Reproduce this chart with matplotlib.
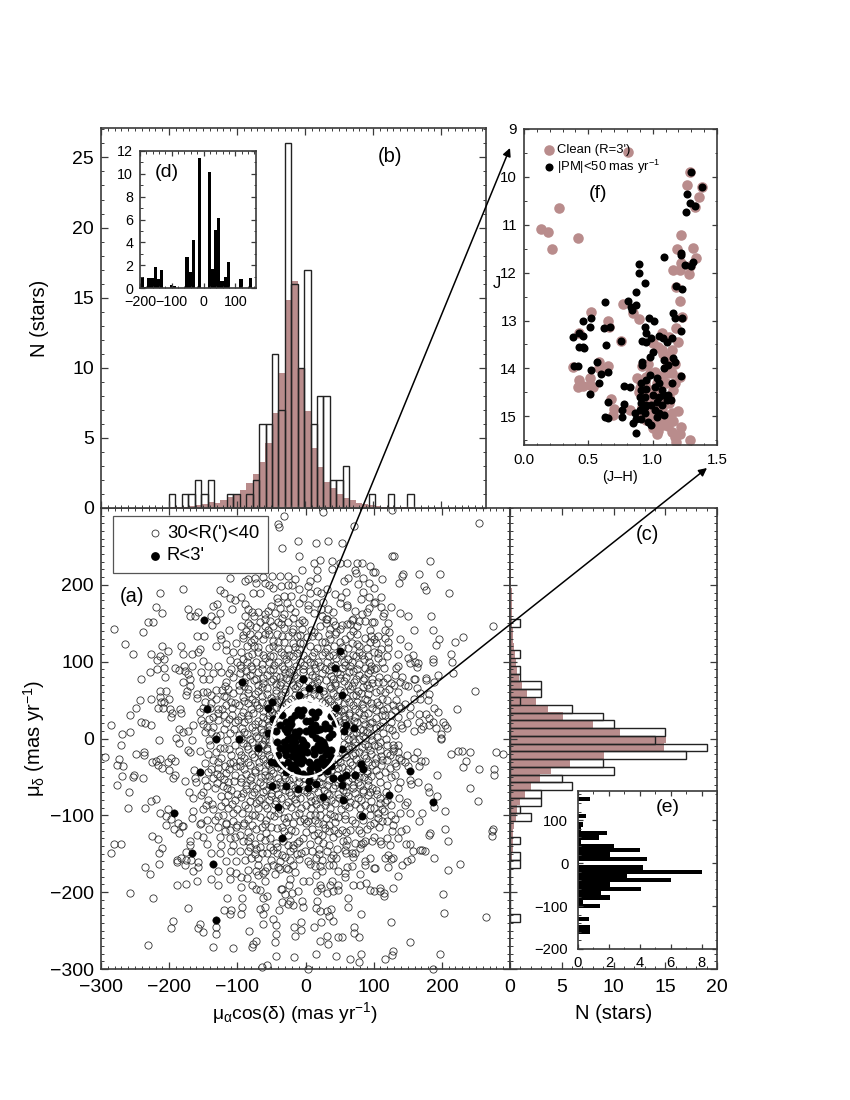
import matplotlib
matplotlib.use("Agg")
import matplotlib.pyplot as plt
from matplotlib.patches import Ellipse, Rectangle, FancyArrowPatch
from matplotlib.ticker import MultipleLocator

plt.rcParams['font.family'] = ['Liberation Sans', 'DejaVu Sans']
plt.rcParams['mathtext.fontset'] = 'custom'
plt.rcParams['mathtext.rm'] = 'Liberation Sans'
plt.rcParams['mathtext.it'] = 'Liberation Sans'
plt.rcParams['mathtext.bf'] = 'Liberation Sans'

BROWN = '#B98C8C'
SPINE = '#3a3a3a'

# ---- panel (a): proper motions of the comparison field
open_left_top = [(-111,209),(-179,195),(-213,189),(-125,193),(-119,189),(-111,183),(-104,180),(-219,171),(-211,163),(-173,169),(-169,160),(-157,164),(-162,159),(-130,175),(-136,172),(-108,169),(-126,163),(-138,159),(-131,154),(-137,148),(-231,152),(-223,151),(-281,143),(-239,139),(-159,133),(-149,134),(-112,141),(-126,135),(-124,130),(-265,123),(-253,110),(-211,120),(-182,120),(-201,114),(-227,110),(-213,108),(-218,102),(-207,103),(-155,117),(-167,110),(-179,110),(-158,112),(-131,120),(-117,123),(-117,115),(-107,112),(-102,124),(-151,101),(-143,94),(-128,95),(-111,102),(-178,95),(-167,94),(-191,92),(-207,92),(-218,90),(-228,86),(-206,80),(-241,77),(-186,89),(-177,88),(-172,84),(-169,78),(-179,74),(-153,86),(-142,78),(-151,78),(-124,87),(-109,91),(-106,80),(-116,74),(-170,68),(-174,62),(-176,57),(-214,62),(-204,62),(-214,54),(-200,52),(-226,51),(-243,50),(-212,48),(-207,48),(-216,40),(-209,40),(-249,40),(-257,30),(-199,38),(-196,33),(-197,28),(-184,38),(-182,33),(-159,58),(-145,60),(-159,53),(-138,57),(-131,63),(-123,63),(-114,65),(-131,52),(-116,54),(-106,59),(-148,48),(-138,46),(-128,39),(-116,44),(-104,46),(-155,34),(-128,33),(-119,31),(-108,31),(-153,24),(-141,26),(-128,24),(-116,20),(-104,22),(-241,22),(-235,20),(-227,18),(-285,18),(-257,8),(-269,6),(-186,12),(-179,8),(-172,10),(-165,18),(-150,19),(-190,1),(-148,9),(-138,9),(-126,5),(-111,7)]
open_left_bottom = [(-215,-2),(-270,-8),(-185,-6),(-167,-2),(-172,-15),(-169,-18),(-155,-16),(-294,-24),(-249,-20),(-237,-17),(-237,-22),(-273,-27),(-277,-35),(-267,-36),(-225,-31),(-219,-29),(-213,-27),(-217,-34),(-211,-39),(-201,-31),(-197,-26),(-191,-29),(-200,-41),(-269,-49),(-253,-50),(-251,-48),(-239,-51),(-195,-51),(-192,-48),(-177,-55),(-163,-41),(-162,-51),(-161,-56),(-277,-61),(-259,-69),(-219,-79),(-227,-81),(-261,-91),(-235,-91),(-171,-70),(-165,-77),(-153,-73),(-143,-80),(-137,-85),(-146,-86),(-151,-92),(-165,-94),(-167,-103),(-213,-97),(-205,-101),(-201,-92),(-197,-105),(-205,-113),(-193,-118),(-187,-110),(-185,-123),(-181,-114),(-179,-114),(-153,-110),(-155,-111),(-142,-118),(-144,-106),(-128,-101),(-117,-110),(-159,-125),(-151,-128),(-145,-137),(-169,-134),(-169,-139),(-225,-127),(-217,-131),(-211,-143),(-215,-149),(-281,-137),(-271,-137),(-285,-149),(-176,-148),(-182,-155),(-188,-158),(-189,-161),(-175,-158),(-168,-158),(-177,-164),(-158,-161),(-157,-167),(-165,-173),(-215,-163),(-235,-167),(-228,-176),(-189,-191),(-175,-189),(-159,-185),(-139,-183),(-129,-191),(-111,-183),(-257,-201),(-223,-207),(-115,-207),(-173,-220),(-119,-223),(-109,-223),(-111,-229),(-195,-237),(-155,-241),(-157,-247),(-198,-247),(-150,-252),(-131,-245),(-131,-255),(-231,-269),(-135,-272),(-107,-273),
(-143,-20),(-131,-17),(-119,-13),(-109,-21),(-148,-32),(-136,-28),(-124,-26),(-111,-32),(-102,-36),(-143,-43),(-128,-39),(-116,-45),(-104,-47),(-148,-54),(-136,-52),(-126,-49),(-114,-56),(-133,-65),(-121,-62),(-109,-67),(-151,-69),(-124,-75),(-114,-73),(-104,-80),(-124,-88),(-114,-91),(-106,-97),(-121,-99),(-116,-111),(-106,-108),(-128,-115),(-111,-119),(-102,-115),(-133,-106),(-125,-128),(-111,-130),(-124,-139),(-106,-139),(-138,-149),(-125,-149),(-109,-147),(-116,-160),(-102,-159),(-111,-173),(-128,-173),(-102,-175)]
open_top = [(25,295),(-31,289),(-41,279),(-39,275),(71,276),(-35,248),(-11,257),(15,255),(33,257),(53,254),(-9,237),(21,232),(13,228),(39,231),(51,228),(61,228),(75,229),(83,228),(94,224),(-5,219),(17,219),(39,221),(72,219),(74,215),(99,217),(-84,207),(-74,209),(-62,210),(-49,212),(-37,212),(-25,212),(-15,208),(17,209),(7,205),(63,209),(57,205),(85,209),(77,201),(93,202),(-89,205),(-73,202),(-60,202),(-53,200),(-47,196),(-36,199),(-25,200),(-20,200),(-9,195),(4,198),(17,192),(31,194),(23,189),(-77,189),(-67,189),(-42,183),(-32,186),(-21,186),(-3,183),(7,189),(44,188),(59,191),(85,191),(100,196),(52,184),(81,181),(93,184),(-94,184),(-89,175),(-84,168),(-40,178),(-27,177),(-10,176),(4,174),(15,176),(26,178),(50,176),(61,174),(61,171),(-50,172),(-37,170),(-23,170),(4,168),(23,168),(33,168),(93,170),(100,176),(-69,165),(-59,162),(-45,163),(-32,162),(-18,157),(-89,160),(-75,159),(24,160),(32,156),(83,162),(90,165),(41,153),(68,154),(78,153),(87,153),(-67,152),(-52,153),(-40,152),(-25,152),(-10,150),(22,146),(44,148),(54,148),(61,149),(76,146),(-81,148),(-59,147),(-47,146),(-32,144),(-18,143),(-5,142),(-94,147),(-72,145),(12,139),(36,142),(51,142),(-81,136),(-69,135),(-54,136),(-42,136),(-25,134),(-13,133),(2,132),(19,133),(34,136),(76,136),(88,131),(100,129),(-91,131),(-76,129),(-62,129),(-47,127),(-32,126),(-18,124),(-3,124),(24,126),(36,129),(58,129),(76,123),(-86,120),(-69,119),(-54,118),(-40,118),(-25,116),(-10,116),(17,118),(32,118),(63,118),(90,118),(-94,113),(-79,110),(-62,109),(-47,108),(-32,109),(-18,107),(-3,109),(24,109),(41,109),(70,109),(83,109),(100,113),(-86,100),(-72,100),(-54,99),(-40,100),(-25,98),(-8,100),(7,99),(19,100),(32,99),(56,100),(68,99),(93,100),(-94,92),(-79,91),(-64,91),(-47,91),(-32,91),(-18,89),(-3,91),(14,92),(29,91),(53,92),(75,91),(88,92),(100,91)]
open_bottom = [(-93,-97),(-79,-99),(-67,-102),(-52,-100),(-40,-97),(-25,-102),(-10,-97),(7,-100),(22,-100),(36,-98),(48,-102),(68,-106),(95,-100),(-91,-113),(-79,-113),(-64,-115),(-50,-115),(-35,-115),(-18,-110),(-8,-108),(4,-108),(19,-110),(34,-113),(53,-119),(65,-119),(78,-119),(95,-113),(-96,-126),(-81,-128),(-67,-128),(-52,-130),(-25,-126),(-15,-120),(-3,-130),(12,-126),(24,-126),(41,-128),(48,-123),(61,-132),(73,-136),(85,-136),(98,-134),(-91,-134),(-81,-141),(-67,-141),(-52,-141),(-42,-141),(-25,-139),(-13,-136),(34,-139),(46,-144),(-96,-147),(-84,-147),(-64,-149),(-57,-149),(-42,-149),(-23,-147),(-13,-150),(-1,-147),(10,-146),(32,-146),(68,-149),(73,-149),(-89,-158),(-69,-156),(-50,-158),(-37,-160),(-23,-158),(-9,-157),(4,-159),(24,-158),(37,-155),(94,-155),(88,-160),(-69,-165),(-57,-167),(-41,-167),(-28,-168),(7,-163),(22,-166),(34,-165),(61,-167),(68,-166),(88,-165),(-84,-171),(-72,-173),(-59,-172),(-45,-176),(-37,-170),(-25,-170),(-15,-174),(24,-173),(48,-172),(58,-175),(80,-176),(100,-169),(-94,-180),(-86,-181),(-69,-178),(-62,-175),(-23,-183),(-3,-185),(5,-185),(15,-178),(39,-185),(58,-180),(89,-188),(-60,-185),(-79,-191),(-95,-193),(-24,-191),(22,-191),(36,-191),(48,-191),(69,-191),(80,-191),(100,-198),(95,-197),(-36,-196),(-34,-196),(-67,-197),(-72,-196),(-20,-201),(-11,-198),(17,-198),(23,-194),(40,-198),(48,-197),(31,-201),(-62,-207),(-57,-205),(-93,-207),(-30,-203),(63,-207),(-35,-213),(-23,-212),(-5,-211),(17,-211),(-19,-217),(-26,-215),(-93,-219),(-59,-219),(-3,-219),(63,-219),(-67,-222),(-39,-223),(-63,-229),(-95,-229),(15,-221),(22,-225),(31,-225),(37,-222),(35,-231),(41,-237),(81,-229),(-47,-235),(-43,-243),(-63,-241),(-7,-239),(-17,-245),(-7,-249),(13,-245),(23,-239),(71,-245),(-43,-254),(-83,-251),(-15,-257),(71,-253),(79,-259),(31,-257),(47,-259),(53,-258),(21,-263),(33,-267),(-73,-264),(-77,-268),(-79,-271),(-45,-265),(-43,-283),(-17,-285),(15,-281),(45,-283),(65,-287),(81,-280),(79,-291),(-57,-295),(-64,-297),(4,-300)]
open_right_top = [(127,297),(255,281),(127,238),(130,237),(183,231),(102,217),(112,208),(143,214),(141,211),(137,203),(167,214),(198,214),(174,199),(177,193),(211,190),(111,184),(102,178),(111,171),(125,171),(115,163),(114,159),(139,163),(151,160),(184,159),(121,150),(101,152),(159,141),(187,141),(275,146),(116,141),(122,139),(106,133),(116,131),(139,129),(151,120),(121,125),(231,132),(220,126),(196,129),(191,122),(104,124),(121,118),(111,116),(106,111),(119,108),(136,110),(157,109),(213,110),(187,104),(187,100),(215,100),(151,105),(161,100),(153,98),(165,98),(163,93),(106,105),(104,92),(136,94),(133,92),(131,82),(141,80),(119,79),(217,85),(195,82),(177,79),(159,78),(161,77),(189,74),(177,76),(125,72),(138,74),(146,70),(150,68),(106,74),(114,74),(249,62),(163,66),(136,60),(109,63),(116,60),(181,58),(168,59),(159,52),(168,52),(179,50),(133,50),(119,50),(105,48),(146,45),(222,38),(189,40),(195,34),(137,42),(154,41),(114,37),(131,37),(104,37),(153,30),(167,32),(177,32),(181,27),(116,31),(126,30),(104,27),(167,22),(187,22),(201,22),(205,18),(207,14),(149,20),(140,18),(126,21),(114,22),(181,18),(172,16),(169,12),(159,10),(191,14),(141,14),(127,11),(114,7),(104,14),(199,6),(199,1),(131,5)]
open_right_bottom = [(199,0),(109,-5),(120,-8),(128,-8),(136,-8),(129,-16),(109,-15),(136,-17),(163,-17),(149,-22),(159,-25),(119,-19),(137,-25),(111,-23),(119,-28),(104,-26),(213,-20),(223,-16),(229,-16),(241,-18),(279,-18),(289,-20),(235,-29),(231,-37),(170,-29),(176,-29),(146,-31),(131,-32),(133,-36),(167,-36),(151,-36),(111,-34),(255,-40),(276,-40),(276,-48),(193,-47),(116,-43),(104,-41),(132,-48),(153,-54),(138,-57),(109,-57),(155,-59),(165,-57),(135,-65),(179,-63),(181,-69),(241,-65),(104,-67),(193,-75),(253,-81),(137,-77),(109,-77),(189,-89),(116,-83),(149,-82),(146,-86),(110,-84),(126,-86),(205,-95),(171,-97),(153,-97),(138,-97),(115,-95),(106,-97),(131,-105),(167,-107),(119,-107),(106,-103),(112,-107),(128,-112),(147,-118),(127,-121),(205,-118),(275,-118),(273,-121),(273,-127),(183,-123),(181,-125),(209,-133),(119,-129),(109,-133),(111,-137),(124,-139),(147,-137),(153,-137),(157,-147),(168,-145),(171,-145),(176,-147),(121,-152),(129,-155),(116,-155),(126,-157),(155,-157),(149,-159),(189,-155),(226,-163),(141,-165),(121,-167),(102,-169),(209,-171),(135,-179),(109,-195),(129,-195),(109,-199),(115,-201),(115,-205),(201,-203),(203,-227),(265,-232),(125,-239),(153,-265),(129,-277),(127,-282),(198,-280),(117,-287),(187,-300)]
open_core = [(-96,85),(-82,82),(-70,86),(-56,83),(-43,81),(-30,85),(-17,83),(-3,86),(10,82),(24,85),(37,81),(50,84),(64,86),(78,82),(91,85),
(-90,74),(-76,76),(-63,72),(-50,75),(-36,73),(-24,76),(-10,72),(4,75),(17,73),(30,76),(44,72),(57,75),(71,73),(85,76),(97,72),
(-98,63),(-84,65),(-70,62),(-57,66),(-44,63),(-30,64),(-16,66),(-2,62),(11,65),(25,62),(38,66),(51,63),(66,65),(77,62),(93,66),
(-92,54),(-78,52),(-64,55),(-50,53),(-36,56),(-22,52),(-8,55),(6,53),(20,56),(33,52),(46,55),(60,53),(74,56),(88,52),
(-97,44),(-85,46),(-71,43),(-57,45),(-42,47),(-29,45),(29,46),(42,44),(56,46),(70,43),(83,45),(96,46),
(-91,35),(-77,33),(-63,36),(-49,34),(-41,32),(42,33),(52,36),(64,33),(78,35),(92,33),
(-99,24),(-84,26),(-70,23),(-56,25),(-48,22),(49,23),(58,26),(71,23),(85,25),(98,22),
(-93,14),(-79,15),(-65,12),(-53,15),(55,13),(66,16),(80,13),(93,15),
(-98,4),(-86,6),(-72,3),(-58,5),(56,3),(69,6),(84,3),(96,5),
(-92,-6),(-78,-4),(-64,-7),(-54,-5),(57,-7),(72,-4),(88,-7),
(-97,-16),(-84,-14),(-70,-17),(-57,-15),(53,-17),(64,-14),(79,-17),(94,-15),
(-90,-26),(-75,-24),(-62,-27),(-50,-25),(48,-27),(60,-24),(74,-27),(89,-25),
(-96,-36),(-82,-34),(-68,-37),(-54,-35),(-42,-37),(42,-35),(54,-37),(68,-34),(84,-37),(97,-35),
(-88,-46),(-74,-44),(-60,-47),(-47,-45),(-31,-47),(32,-45),(46,-47),(59,-44),(73,-47),(90,-45),
(-94,-56),(-81,-54),(-67,-57),(-52,-55),(-38,-57),(-24,-54),(-10,-57),(6,-55),(20,-57),(34,-54),(48,-57),(62,-55),(77,-57),(92,-54),
(-87,-66),(-72,-64),(-58,-67),(-44,-65),(-30,-67),(-16,-64),(-2,-67),(13,-65),(27,-67),(41,-64),(55,-67),(70,-65),(85,-67),(98,-64),
(-95,-76),(-79,-74),(-65,-77),(-50,-75),(-36,-77),(-22,-74),(-8,-77),(7,-75),(21,-77),(35,-74),(49,-77),(63,-75),(77,-77),(92,-74),
(-89,-86),(-73,-84),(-59,-87),(-45,-85),(-29,-87),(-14,-84),(0,-87),(15,-85),(29,-87),(44,-84),(58,-87),(72,-85),(87,-87)]
open_core_more = [(-88,80),(-62,79),(-38,80),(-12,79),(14,80),(40,78),(60,80),(86,79),(-97,70),(-70,69),(-44,71),(-18,69),(9,70),(36,68),(62,70),(90,69),(-84,59),(-57,58),(-30,60),(-2,59),(27,58),(56,60),(82,59),(-90,49),(-64,48),(-36,50),(36,49),(64,48),(90,50),(-80,39),(-52,38),(-36,40),(47,39),(72,38),(98,40),(-94,29),(-62,28),(-46,30),(48,29),(73,28),(-74,19),(-54,18),(56,20),(88,19),(-90,9),(-62,8),(62,10),(90,9),(-82,-1),(-60,-2),(62,0),(78,-1),(98,-2),(-70,-11),(-56,-12),(62,-10),(83,-11),(-94,-21),(-66,-22),(58,-20),(69,-21),(86,-22),(-84,-31),(-56,-32),(-44,-30),(50,-31),(80,-32),(-74,-41),(-60,-42),(-36,-40),(38,-41),(62,-40),(90,-42),(-94,-51),(-66,-50),(-40,-52),(-18,-51),(-2,-52),(24,-50),(40,-52),(68,-51),(86,-50),(-78,-61),(-52,-60),(-36,-62),(-4,-61),(32,-60),(58,-62),(80,-61),(-92,-71),(-62,-70),(-40,-72),(-12,-71),(18,-70),(48,-72),(72,-71),(94,-70),(-82,-81),(-54,-80),(-26,-82),(8,-81),(38,-80),(66,-82),(96,-81),(-70,-91),(-38,-92),(-6,-90),(22,-91),(52,-92),(80,-90)]
open_upper_more = [(-60,155),(-35,157),(-5,154),(30,156),(70,155),(-88,140),(-55,141),(-20,139),(8,141),(45,139),(70,140),(95,141),(-80,125),(-40,126),(-8,124),(28,125),(50,126),(68,124),(95,125),(-70,112),(-36,113),(-12,111),(12,112),(28,113),(55,111),(78,112),(-92,104),(-60,105),(-28,103),(2,104),(45,105),(62,103),(86,104),(-80,95),(-46,96),(-14,94),(22,95),(44,96),(66,94),(96,95)]
open_lower_more = [(-85,-105),(-58,-106),(-32,-104),(-2,-105),(14,-106),(30,-104),(58,-105),(85,-106),(-72,-118),(-42,-117),(-22,-119),(10,-118),(28,-117),(42,-119),(90,-118),(-85,-133),(-60,-132),(-33,-134),(-9,-133),(18,-132),(55,-134),(88,-133),(-72,-144),(-47,-145),(-18,-143),(20,-144),(58,-145),(80,-143),(-80,-155),(-30,-154),(15,-156),(45,-155),(70,-154)]
open_side_more = [(-120,55),(-110,48),(-140,40),(-122,38),(-108,40),(-135,28),(-112,25),(-145,15),(-120,12),(-105,12),(-132,3),(-115,-2),(-104,-8),(-140,-8),(-125,-12),(-112,-14),(-128,-30),(-118,-36),(-107,-30),(-138,-40),(-120,-53),(-105,-55),(-130,-58),(-115,-65),(-100,-72),(-118,-82),(-108,-85),(-100,-92),
(108,80),(122,64),(103,60),(112,52),(128,44),(108,44),(120,40),(135,28),(110,16),(122,14),(105,2),(118,-1),(130,-12),(107,-10),(124,-22),(112,-28),(102,-32),(124,-38),(108,-48),(120,-60),(105,-72),(118,-70),(100,-90),(112,-92),(125,-100),(108,-115),(100,-128)]
open_dense_layer = [(-78,165),(-55,166),(-15,164),(12,163),(40,165),(72,166),(-84,150),(-36,149),(-2,151),(30,150),(66,149),(98,151),(-92,135),(-60,136),(-34,134),(-8,135),(10,134),(44,136),(66,135),(96,134),(-76,120),(-47,121),(-16,119),(6,120),(42,121),(54,119),(78,120),(-84,108),(-52,107),(-24,109),(10,108),(34,107),(52,109),(74,108),(92,107),(-96,96),(-64,97),(-34,95),(-2,96),(12,97),(38,95),(58,96),(78,97),
(-88,88),(-52,89),(-24,87),(6,88),(34,89),(46,87),(70,88),(94,89),(-72,78),(-48,77),(-28,79),(-4,78),(20,77),(50,79),(74,78),(98,77),(-90,68),(-64,67),(-38,69),(-12,68),(16,67),(44,69),(68,68),(84,67),(-74,58),(-44,59),(-16,57),(12,58),(40,59),(70,57),(92,58),(-74,48),(-48,49),(-26,47),(24,48),(48,49),(76,47),(-68,40),(-44,41),(56,39),(84,40),(-84,30),(-54,31),(56,29),(64,31),(86,30),(-64,20),(-90,21),(64,19),(76,21),(94,20),(-74,10),(-54,11),(74,9),(84,11),(-94,0),(-70,1),(-54,-1),(70,0),(88,1),(-86,-10),(-62,-9),(68,-11),(92,-10),(-78,-20),(-54,-21),(72,-19),(96,-20),(-68,-30),(-96,-29),(66,-31),(92,-30),(-90,-40),(-50,-41),(48,-39),(76,-40),
(-80,-50),(-54,-49),(-30,-51),(-10,-50),(12,-49),(54,-51),(78,-50),(96,-49),(-88,-60),(-62,-61),(-44,-59),(-22,-60),(8,-61),(24,-59),(44,-60),(70,-61),(92,-60),(-76,-70),(-50,-71),(-24,-69),(2,-70),(32,-71),(60,-69),(84,-70),(-68,-80),(-44,-81),(-16,-79),(14,-80),(30,-81),(56,-79),(82,-80),(-84,-90),(-56,-91),(-22,-89),(8,-90),(36,-91),(64,-89),(94,-90),(-74,-100),(-46,-101),(-16,-99),(14,-100),(42,-101),(58,-99),(80,-100),(-90,-110),(-60,-111),(-28,-109),(0,-110),(26,-111),(44,-109),(72,-110),(-84,-122),(-58,-123),(-32,-121),(0,-122),(18,-123),(34,-121),(60,-122),(82,-123),(-74,-137),(-44,-136),(-18,-138),(6,-137),(26,-136),(60,-138),(82,-137),(-74,-150),(-34,-151),(-6,-149),(20,-150),(40,-151),(60,-149),(-48,-165),(-18,-164),(14,-166),(40,-165),
(-150,40),(-135,15),(-142,-2),(-130,-46),(-145,-62),(-112,-40),(-135,-92),(-118,-120),(-100,-112),(-104,-128),(-150,60),(-118,68),(-135,85),(-112,85),(-100,100),(115,92),(130,70),(112,30),(140,40),(100,-8),(140,-28),(125,-50),(100,-110),(140,-120),(135,-130),(120,-80),(112,100)]
cluster_stars = [(-149,154),(-144,38),(-131,0),(-155,-44),(-193,-97),(-167,-149),(-135,-163),(-131,-236),(-35,-129),(153,-42),(122,-73),(187,-83),(50,114),(43,92),
(-93,74),(-3,78),(5,66),(20,64),(-9,56),(53,56),(-49,48),(-55,40),(45,40),(-48,26),(-38,17),(60,17),(71,14),(-55,7),(56,10),(-98,-1),(-69,-12),(54,-14),(-51,-30),(-44,-32),(81,-33),(85,-40),(-29,-44),(72,-48),(40,-51),(59,-48),(52,-52),(54,-60),(5,-55),(-49,-62),(-29,-62),(15,-59),(-11,-66),(3,-64),(25,-76),(55,-80),(-41,-89),(83,-101),
(-11,37),(-7,30),(10,35),(18,34),(-21,26),(-21,19),(0,23),(7,23),(29,19),(37,29),(-27,9),(0,10),(17,11),(22,12),(39,6),(-25,0),(-12,3),(-5,-2),(15,1),(22,-2),(-32,-4),(-20,-7),(-7,-11),(0,-9),(27,-9),(-37,-12),(-15,-13),(-5,-17),(37,-15),(-29,-22),(-20,-23),(-7,-23),(13,-20),(24,-25),(37,-24),(-20,-35),(-7,-32),(7,-40),(17,-38),(27,-35),(32,-30),(-22,-38),(-12,-30),(2,-17),(22,-15),(17,-30),(-15,-5),(-10,-12),(-12,-18),(-3,-5),(-20,2),(-10,10),
(-30,12),(-24,14),(-15,8),(10,6),(-28,-10),(-22,-14),(-16,-20),(-4,-12),(12,-14),(18,-8),(25,-4),(30,-14),(30,-20),(-30,-16),(-14,-26),(-4,-28),(5,-30),(10,-34),(22,-32),(-16,-38),(-26,-30),(-12,-42),(28,14),(14,28),(-16,31),(-4,37),(14,18),(-28,22),(8,14),(34,2),(35,14),(44,20),(-42,-4),(-44,10),(-40,-22),(-34,-34),(-34,30),(20,-44),(32,-42),(38,-36),(-4,-46),(6,-46)]

# ---- panel (b)
b_start, b_width = -200.0, 9.46
b_open = [1,0,1,1,2,1,2,0,0,1,1,0,1,2,6,6,11,7,26,16,10,17,6,8,8,2,2,3,0,0,0,1,0,0,1,0,0,1]
b_filled_start = -219.0
b_filled = [.03,.03,.04,.05,.07,.12,.2,.3,.4,.35,.55,.75,.9,1.25,1.8,2.45,3.3,4.65,6.8,9.6,14.8,16.2,10,6.9,4.3,2.9,1.85,1.4,1.0,.7,.6,.35,.25,.2,.15,.08,.05,.05,.05,.04,.03]

# ---- panel (c): bins counted downward
c_top, c_width = 155.0, 10.1
c_open = [1,0,0,0,1,0,1,1,3,3,1,6,9,10,15,14,19,17,9,10,5,6,3,3,1,2,0,0,1,0,1,1,0,0,0,0,0,0,1]
c_filled_top = 236.0
c_filled = [.03,.05,.08,.1,.15,.15,.18,.2,.22,.3,.3,.4,.45,.55,.65,.85,1.15,1.6,2.5,3.7,5.1,8,10.6,15.1,14.9,9.1,5.8,4,2.9,2,1.45,.95,.65,.6,.4,.33,.27,.25,.18,.13,.1,.08,.07,.05,.05,.04,.04,.03,.03,.03]

# ---- inset (d)
d_start, d_width = -197.0, 10.0
d_vals = [1,.1,.9,.9,1.8,.8,1.6,0,0,.3,.15,0,0,0,2.7,1.4,4.2,0,11.4,0,0,10.2,1.7,5.1,6.1,.6,1,2.3,0,0,0,.8,0,0,.9,0]

# ---- inset (e)
e_top, e_width = 155.0, 10.0
e_vals = [.75,0,0,0,.55,0,.35,.2,1.9,1.35,.2,2.35,4.0,2.1,4.45,.05,4.2,8.0,3.2,6.0,2.1,4.05,1.5,2.05,.35,1.45,0,0,.7,0,.75,.75]

# ---- panel (f): colour-magnitude diagram
clean_jh = [.81,1.29,1.27,1.38,1.36,1.33,.27,.13,.19,.42,.22,1.22,1.19,1.31,1.34,1.22,1.16,1.21,1.28,1.29,1.18,1.21,1.23,1.18,.77,.85,.89,.52,.65,.66,.43,.75,.38,.58,.65,.58,.64,.43,.51,.42,.46,.51,.54,.68,.70,.69,.82,.92,.91,.89,.95,.92,.95,.98,1.0,1.03,1.05,1.03,1.07,1.0,1.03,1.08,1.15,1.13,1.09,1.05,1.22,1.15,1.17,1.18,1.29,1.21,1.0,1.07,1.11,1.15,1.17,1.12,1.07,1.02,.96,1.13,1.07,1.21,1.15,
.9,.94,.98,1.02,1.06,1.1,.93,.97,1.01,1.05,1.09,1.13,1.17,.92,.96,1.0,1.04,1.08,1.12,1.16,.88,.94,.98,1.06,1.1,1.14,1.2,1.0,1.04,1.12,1.04,1.08,1.12,1.16,1.2]
clean_j = [9.47,9.89,10.16,10.21,10.42,10.63,10.65,11.08,11.16,11.27,11.5,11.21,11.51,11.49,11.69,11.8,11.95,11.95,12.02,11.87,12.29,12.6,12.93,13.16,12.65,12.85,12.97,12.82,13.01,13.13,13.27,13.42,13.97,13.86,13.94,14.0,14.03,14.24,14.21,14.38,14.36,14.35,14.38,14.63,14.84,14.98,14.87,13.96,14.28,14.49,14.17,14.8,15.08,14.94,14.52,14.31,14.45,14.73,14.87,15.15,15.36,15.19,14.94,14.73,14.59,15.08,15.22,15.33,15.43,15.54,15.5,15.36,13.48,13.62,13.76,13.62,13.9,14.1,14.17,14.07,13.9,13.34,13.27,14.17,14.1,
14.4,14.3,14.45,14.6,14.35,14.3,14.7,14.65,14.8,14.9,14.75,14.6,14.3,14.95,15.0,15.05,15.15,15.05,15.0,15.1,14.2,14.55,14.1,14.15,14.0,13.8,13.45,15.25,15.3,15.2,13.55,13.7,13.85,14.45,14.9]
pm_jh = [1.30,1.27,1.38,1.29,1.33,1.26,1.09,1.22,1.22,.89,.89,1.25,1.31,1.30,.94,1.18,1.23,.87,.63,.81,.87,.83,.84,1.16,1.17,1.23,.52,.46,.51,.62,.67,1.22,.97,1.01,.94,.95,.38,.43,.46,.75,.64,.43,.46,.47,.92,.95,.99,1.05,1.08,1.11,1.15,1.0,.98,.92,.92,.57,.39,.42,.52,1.09,1.16,1.17,1.12,1.09,.6,.65,1.22,.58,1.15,.78,.82,.51,.65,1.12,1.14,.78,.76,.76,.63,.65,.85,.87,
.91,.95,.98,1.03,1.05,.91,.95,1.02,1.07,.90,.94,1.0,1.05,1.09,.91,.95,.99,1.03,1.07,1.11,.90,.94,1.02,1.05,1.09,.87,.91,.96,.99,1.03,.86,.94]
pm_j = [9.9,10.35,10.21,10.54,10.6,10.74,11.67,11.58,11.63,11.82,12.01,11.85,11.77,11.87,12.21,12.27,12.34,12.41,12.62,12.6,12.67,12.71,12.79,12.85,12.95,12.94,12.94,13.02,13.13,13.16,13.14,13.21,12.95,13.02,13.13,13.27,13.35,13.27,13.32,13.42,13.52,13.55,13.56,13.58,13.42,13.44,13.37,13.32,13.37,13.44,13.37,13.65,13.76,13.86,13.93,13.86,13.95,13.95,14.03,13.83,13.79,13.86,13.93,14.0,14.12,14.07,14.15,14.31,14.31,14.37,14.38,14.54,14.7,14.56,14.65,14.75,14.86,15.01,15.01,15.03,15.15,15.34,
14.31,14.24,14.14,14.21,14.31,14.45,14.42,14.38,14.45,14.59,14.59,14.56,14.59,14.56,14.73,14.77,14.77,14.7,14.77,14.65,14.87,14.94,14.87,14.94,14.98,15.05,15.05,15.12,15.19,15.01,14.94,14.8]

fig = plt.figure(figsize=(8.5, 11), dpi=100, facecolor='white')

def box(l, t, r, b):
    return [l/850, 1-b/1100, (r-l)/850, (b-t)/1100]

def style(ax, fs, mx, my, major=4.8, minor=2.4):
    ax.xaxis.set_minor_locator(MultipleLocator(mx))
    ax.yaxis.set_minor_locator(MultipleLocator(my))
    ax.tick_params(which='both', direction='in', top=True, right=True, bottom=True, left=True,
                   color=SPINE, labelsize=fs, width=0.9)
    ax.tick_params(which='major', length=major)
    ax.tick_params(which='minor', length=minor, width=0.7)
    for s in ax.spines.values():
        s.set_color(SPINE)
        s.set_linewidth(1.2)

# -------- (a)
ax = fig.add_axes(box(101, 508, 510, 969))
every_open = (open_left_top + open_left_bottom + open_top + open_bottom + open_right_top +
              open_right_bottom + open_core + open_core_more + open_upper_more + open_lower_more +
              open_side_more + open_dense_layer)
ax.plot([p[0] for p in every_open], [p[1] for p in every_open], 'o', ms=5.2, mfc='none', mec='#333333', mew=0.6, ls='none', clip_on=False)
ax.plot([p[0] for p in cluster_stars], [p[1] for p in cluster_stars], 'o', ms=5.3, mfc='black', mec='black', mew=0.4, ls='none')
ax.add_patch(Ellipse((0, 0), 100, 100, fc='none', ec='white', lw=1.8, zorder=4))
ax.set_xlim(-300, 300)
ax.set_ylim(-300, 300)
ax.set_xticks([-300, -200, -100, 0, 100, 200], ['\u2212300', '\u2212200', '\u2212100', '0', '100', '200'])
ax.set_yticks([-300, -200, -100, 0, 100, 200], ['\u2212300', '\u2212200', '\u2212100', '0', '100', '200'])
style(ax, 14, 10, 10)
ax.tick_params(axis='x', which='major', pad=7)
ax.tick_params(axis='y', which='major', pad=5)
lx0 = (113-101)/409; lx1 = (268-101)/409; ly0 = 1-(573-508)/461; ly1 = 1-(516-508)/461
ax.add_patch(Rectangle((lx0, ly0), lx1-lx0, ly1-ly0, transform=ax.transAxes, fc='white', ec='#555555', lw=0.9, zorder=5))
ax.plot([(155-101)/409], [1-(533-508)/461], 'o', ms=5.0, mfc='white', mec='#333333', mew=0.6, transform=ax.transAxes, zorder=6)
ax.plot([(155-101)/409], [1-(556-508)/461], 'o', ms=5.3, mfc='black', mec='black', transform=ax.transAxes, zorder=6)
ax.text((167-101)/409, 1-(533-508)/461, "30<R(')<40", fontsize=13.3, va='center', ha='left', transform=ax.transAxes, zorder=6)
ax.text((167-101)/409, 1-(556-508)/461, "R<3'", fontsize=13.3, va='center', ha='left', transform=ax.transAxes, zorder=6)
ax.text((120-101)/409, 1-(597-508)/461, '(a)', fontsize=14.5, va='center', ha='left', transform=ax.transAxes)
ax.set_xlabel('\u03bc$_{\\mathrm{\u03b1}}$cos(\u03b4) (mas yr$^{-1}$)', fontsize=13.9, x=(295-101)/409, labelpad=3)
ax.set_ylabel('\u03bc$_{\\mathrm{\u03b4}}$ (mas yr$^{-1}$)', fontsize=14.5)
ax.yaxis.set_label_coords((47-101)/409, 0.5)

# -------- (b)
axb = fig.add_axes(box(101, 128, 486, 508))
axb.bar([b_filled_start + i*b_width for i in range(len(b_filled))], b_filled, width=b_width, align='edge', color=BROWN, lw=0)
axb.bar([b_start + i*b_width for i in range(len(b_open))], b_open, width=b_width, align='edge', fc='none', ec='#222222', lw=1.0)
axb.set_xlim(-300, 266)
axb.set_ylim(0, 27.1)
axb.set_xticks([-300, -200, -100, 0, 100, 200], [])
axb.set_yticks([0, 5, 10, 15, 20, 25], ['0', '5', '10', '15', '20', '25'])
style(axb, 14, 10, 1)
axb.tick_params(axis='y', which='major', pad=5)
axb.set_ylabel('N (stars)', fontsize=14.5)
axb.yaxis.set_label_coords((49-101)/385, 0.5)
axb.text((390-101)/385, 1-(156-128)/380, '(b)', fontsize=14.5, va='center', ha='center', transform=axb.transAxes)

# -------- (c)
axc = fig.add_axes(box(510, 508, 717, 969))
axc.barh([c_filled_top - i*c_width for i in range(len(c_filled))], c_filled, height=-c_width, align='edge', color=BROWN, lw=0)
axc.barh([c_top - i*c_width for i in range(len(c_open))], c_open, height=-c_width, align='edge', fc='none', ec='#222222', lw=1.0)
axc.set_xlim(0, 20)
axc.set_ylim(-300, 300)
axc.set_xticks([0, 5, 10, 15, 20], ['0', '5', '10', '15', '20'])
axc.set_yticks([-300, -200, -100, 0, 100, 200], [])
style(axc, 14, 1, 10)
axc.tick_params(axis='x', which='major', pad=7)
axc.set_xlabel('N (stars)', fontsize=14.5, labelpad=6)
axc.text((647-510)/207, 1-(534-508)/461, '(c)', fontsize=14.5, va='center', ha='center', transform=axc.transAxes)

# -------- (d)
axd = fig.add_axes(box(140, 151, 256, 288))
axd.bar([d_start + i*d_width for i in range(len(d_vals))], d_vals, width=d_width, align='edge', color='black', lw=0)
axd.set_xlim(-200, 165)
axd.set_ylim(0, 12)
axd.set_xticks([-200, -100, 0, 100], ['\u2212200', '\u2212100', '0', '100'])
axd.set_yticks([0, 2, 4, 6, 8, 10, 12], ['0', '2', '4', '6', '8', '10', '12'])
style(axd, 10.3, 20, 1, major=3.5, minor=1.8)
axd.tick_params(axis='x', which='major', pad=5)
axd.tick_params(axis='y', which='major', pad=5)
axd.text(0.23, 0.845, '(d)', fontsize=14, va='center', ha='center', transform=axd.transAxes)

# -------- (e)
axe = fig.add_axes(box(578, 791, 717, 949))
axe.barh([e_top - i*e_width for i in range(len(e_vals))], e_vals, height=-e_width, align='edge', color='black', lw=0)
axe.set_xlim(0, 9)
axe.set_ylim(-200, 168)
axe.set_xticks([0, 2, 4, 6, 8], ['0', '2', '4', '6', '8'])
axe.set_yticks([-200, -100, 0, 100], ['\u2212200', '\u2212100', '0', '100'])
style(axe, 10.6, 1, 20, major=3.5, minor=1.8)
axe.tick_params(axis='x', which='major', pad=5)
axe.tick_params(axis='y', which='major', pad=7)
axe.text((668-578)/139, 1-(808-791)/158, '(e)', fontsize=14, va='center', ha='center', transform=axe.transAxes)

# -------- (f)
axf = fig.add_axes(box(524, 129, 717, 445))
axf.plot(clean_jh, clean_j, 'o', ms=7.6, mfc=BROWN, mec=BROWN, mew=0, ls='none')
axf.plot(pm_jh, pm_j, 'o', ms=5.8, mfc='black', mec='black', mew=0, ls='none')
axf.set_xlim(0, 1.5)
axf.set_ylim(15.6, 9)
axf.set_xticks([0, .5, 1, 1.5], ['0.0', '0.5', '1.0', '1.5'])
axf.set_yticks([9, 10, 11, 12, 13, 14, 15], ['9', '10', '11', '12', '13', '14', '15'])
style(axf, 10.8, .1, .5, major=3.5, minor=1.8)
axf.tick_params(axis='x', which='major', pad=6)
axf.tick_params(axis='y', which='major', pad=5)
axf.plot([(549-524)/193], [1-(150-129)/316], 'o', ms=7.6, mfc=BROWN, mec=BROWN, mew=0, transform=axf.transAxes)
axf.plot([(549-524)/193], [1-(167-129)/316], 'o', ms=5.8, mfc='black', mec='black', mew=0, transform=axf.transAxes)
axf.text((557-524)/193, 1-(150-129)/316, "Clean (R=3')", fontsize=9.4, va='center', ha='left', transform=axf.transAxes)
axf.text((557-524)/193, 1-(167-129)/316, '|PM|<50 mas yr$^{-1}$', fontsize=9.4, va='center', ha='left', transform=axf.transAxes)
axf.text((598-524)/193, 1-(194-129)/316, '(f)', fontsize=14, va='center', ha='center', transform=axf.transAxes)
fig.text(620/850, 1-477/1100, '(J\u2013H)', fontsize=10.5, ha='center', va='center')
fig.text(497/850, 1-283/1100, 'J', fontsize=12, ha='center', va='center')

# -------- arrows
for (x0, y0), (x1, y1) in [((280, 708), (510, 148)), ((323, 773), (707, 468))]:
    fig.add_artist(FancyArrowPatch(
        (x0/850, 1-y0/1100), (x1/850, 1-y1/1100), transform=fig.transFigure,
        arrowstyle='-|>', mutation_scale=12, color='black', lw=1.1, shrinkA=0, shrinkB=0, zorder=20))

fig.savefig('out.png', dpi=100)
